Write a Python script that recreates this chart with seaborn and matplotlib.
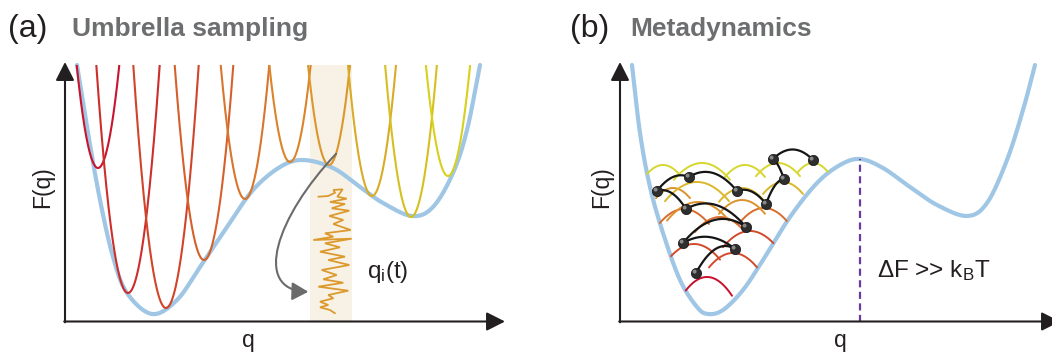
import numpy as np
import matplotlib
matplotlib.use("Agg")
import matplotlib.pyplot as plt
from matplotlib.path import Path
from matplotlib.patches import FancyArrowPatch, Rectangle
import seaborn as sns

sns.set_theme(style="white")
plt.rcParams["font.family"] = ["Liberation Sans", "DejaVu Sans"]
plt.rcParams["mathtext.fontset"] = "custom"
plt.rcParams["mathtext.rm"] = "Liberation Sans"
plt.rcParams["mathtext.it"] = "Liberation Sans"

W, H = 1052, 354

# ---------------- data ----------------
# (a) free-energy profile F(q), control points
fa_q = [12, 23, 35, 48, 62, 87, 112, 135, 162, 188, 215, 238, 268, 295, 318, 347, 368, 388, 402, 415]
fa_F = [256.5, 188.5, 121.5, 64.5, 28.5, 7.5, 21.5, 54.5, 94.5, 131.5, 154.5, 161.5, 153.5, 134.5,
        118.5, 105.5, 114.5, 148.5, 191.5, 256.5]

# umbrella windows: minimum position / level of each harmonic bias
win_q = [33, 63, 101, 139, 180, 225, 264, 307, 346, 383]
win_F = [153.5, 28.5, 13.5, 61.5, 122.5, 159.5, 156.5, 125.5, 104.5, 145.5]
win_k = 0.227
win_colors = ["#c8142f", "#cc2e2b", "#d0452a", "#d5602b", "#d9752c",
              "#db842c", "#db962c", "#d9ab27", "#d6bf21", "#d8d01d"]

# sampled window and its trajectory q_i(t)
band_q = [245, 287]
traj_t_q = [253.3, 263.3, 270, 268.3, 277.7, 272.3, 281.7, 265, 280, 266.7, 284.3, 264.3, 278.3,
            268.3, 285.7, 260, 268.3, 248.3, 286.7, 260, 275, 255, 280, 263.3, 284.3, 256.7,
            271.7, 258.3, 278.3, 253.3, 268.3, 283.3, 263.3, 268.3, 255, 263.3, 255, 265, 270]
traj_t_F = [124.8, 125.5, 128.8, 131.5, 132.2, 124.8, 122.8, 119.5, 117.5, 113.2, 110.8, 105.5,
            101.5, 97.5, 91.5, 88.2, 84.8, 81.5, 82.8, 78.2, 74.2, 69.8, 64.8, 61.5, 56.5, 51.5,
            46.5, 42.2, 38.8, 34.8, 32.8, 30.8, 26.5, 23.2, 19.8, 16.5, 14.2, 11.5, 8.2]

# (b) free-energy profile
fb_q = [12, 20, 30, 43, 60, 77, 88, 103, 123, 143, 170, 197, 220, 240, 263, 290, 317, 347, 367,
        387, 403, 415]
fb_F = [256.5, 188.5, 134.5, 88.5, 41.5, 14.5, 7.5, 11.5, 31.5, 61.5, 104.5, 138.5, 156.5, 162.5,
        153.5, 134.5, 116.5, 105.5, 118.5, 161.5, 211.5, 256.5]
barrier_q = 240

# deposited Gaussian hills: centre, top, half width, layer
hill_q = [87, 74, 113, 130, 64, 100, 144, 53, 78, 122, 77, 122, 163, 43, 82, 125, 158, 193]
hill_F = [44.5, 77.5, 68.5, 90.5, 112.5, 104.5, 113.5, 133.5, 119.5, 121.5, 139.5, 133.5, 139.5,
          156.5, 158.5, 156.5, 158.5, 158.5]
hill_w = [25, 26, 24, 27, 25, 25, 24, 17, 31, 23, 32, 23, 20, 17, 28, 20, 22, 15]
hill_layer = [0, 1, 1, 1, 2, 2, 2, 3, 3, 3, 4, 4, 4, 5, 5, 5, 5, 5]
layer_colors = ["#c8102e", "#d24a2b", "#da6b2b", "#dd922e", "#dbb72b", "#d6d72e"]

# walker positions in visiting order, and arc lift of each hop
walk_q = [76, 115, 63, 126, 66, 37, 69, 117, 146, 164, 153, 193]
walk_F = [48.5, 72.5, 78.5, 94.5, 112.5, 130.5, 144.5, 130.5, 117.5, 142.5, 162.5, 161.5]
hop_lift = [12, 9, 15, 13, 7, 7, 11, 6, 6, 3, 10]

BLUE = "#9fc6e4"
AXIS = "#231f20"


def smooth(xs, ys, n=24):
    """Catmull-Rom curve through the control points."""
    P = np.column_stack([xs, ys]).astype(float)
    P = np.vstack([2 * P[0] - P[1], P, 2 * P[-1] - P[-2]])
    out = []
    t = np.linspace(0, 1, n, endpoint=False)[:, None]
    for i in range(1, len(P) - 2):
        p0, p1, p2, p3 = P[i - 1], P[i], P[i + 1], P[i + 2]
        seg = 0.5 * (2 * p1 + (-p0 + p2) * t + (2 * p0 - 5 * p1 + 4 * p2 - p3) * t ** 2
                     + (-p0 + 3 * p1 - 3 * p2 + p3) * t ** 3)
        out.append(seg)
    out.append(P[-2][None])
    c = np.vstack(out)
    return c[:, 0], c[:, 1]


def draw_axes(ax):
    ax.set_xlim(0, 440)
    ax.set_ylim(0, 259.5)
    ax.axis("off")
    kw = dict(arrowstyle="-|>,head_length=0.75,head_width=0.38", lw=1.5, color=AXIS,
              mutation_scale=15, shrinkA=0, shrinkB=0)
    ax.annotate("", xy=(0, 259.5), xytext=(0, -0.8), arrowprops=kw, annotation_clip=False, zorder=10)
    ax.annotate("", xy=(440, 0), xytext=(-0.8, 0), arrowprops=kw, annotation_clip=False, zorder=10)


fig = plt.figure(figsize=(W / 100, H / 100), dpi=100)
axa = fig.add_axes([65 / W, (H - 321.5) / H, 440 / W, 259.5 / H])
axb = fig.add_axes([620 / W, (H - 321.5) / H, 440 / W, 259.5 / H])

# ---------------- (a) umbrella sampling ----------------
axa.add_patch(Rectangle((band_q[0], 0), band_q[1] - band_q[0], 256.5, color="#f8f2e6", lw=0, zorder=0))
qa, Fa = smooth(fa_q, fa_F)
sns.lineplot(x=qa, y=Fa, sort=False, estimator=None, color=BLUE, lw=3.0, ax=axa, zorder=2)

for qv, Fv, col in zip(win_q, win_F, win_colors):
    hw = np.sqrt((256.5 - Fv) / win_k)
    q = np.linspace(qv - hw, qv + hw, 200)
    axa.plot(q, Fv + win_k * (q - qv) ** 2, color=col, lw=1.5, zorder=3, solid_capstyle="butt")

axa.plot(traj_t_q, traj_t_F, color="#dc9a2e", lw=1.3, zorder=4, solid_joinstyle="miter")

arrow_path = Path([(265, 169.5), (205, 101.5), (180, 21.5), (237, 19.5)],
                  [Path.MOVETO, Path.CURVE4, Path.CURVE4, Path.CURVE4])
arrow_path = arrow_path.transformed(axa.transData)
axa.add_patch(FancyArrowPatch(path=arrow_path, arrowstyle="-|>,head_length=0.9,head_width=0.5",
                              mutation_scale=11, lw=1.5, color="#6b6b6b", transform=None, zorder=5))
draw_axes(axa)

# ---------------- (b) metadynamics ----------------
qb, Fb = smooth(fb_q, fb_F)
sns.lineplot(x=qb, y=Fb, sort=False, estimator=None, color=BLUE, lw=3.0, ax=axb, zorder=2)
axb.plot([barrier_q, barrier_q], [0, np.interp(barrier_q, qb, Fb)], color="#6a3aa0", lw=1.6,
         ls=(0, (3.2, 2.0)), zorder=3)

for c, top, w, lev in zip(hill_q, hill_F, hill_w, hill_layer):
    q = np.linspace(c - w, c + w, 120)
    drop = 0.75 * w if lev == 0 else 0.6 * w
    F = top - drop * ((q - c) / w) ** 2
    F = np.where(F >= np.interp(q, qb, Fb), F, np.nan)
    axb.plot(q, F, color=layer_colors[lev], lw=1.4, zorder=3)

for i in range(len(walk_q) - 1):
    p0 = np.array([walk_q[i], walk_F[i]])
    p2 = np.array([walk_q[i + 1], walk_F[i + 1]])
    ctrl = (p0 + p2) / 2 + np.array([0, 2 * hop_lift[i]])
    t = np.linspace(0, 1, 60)[:, None]
    seg = (1 - t) ** 2 * p0 + 2 * (1 - t) * t * ctrl + t ** 2 * p2
    axb.plot(seg[:, 0], seg[:, 1], color="#151515", lw=1.6, zorder=5)

sns.scatterplot(x=walk_q, y=walk_F, s=55, color="#2e2e2e", edgecolor="#111111", linewidth=0.5,
                ax=axb, zorder=6, legend=False)
sns.scatterplot(x=np.array(walk_q) - 1.4, y=np.array(walk_F) + 1.4, s=8, color="#8a8a8a",
                edgecolor="none", ax=axb, zorder=7, legend=False)
draw_axes(axb)


# ---------------- text ----------------
def fx(x, y):
    return x / W, 1 - y / H


fig.text(*fx(8, 37), "(a)", fontsize=23, color=AXIS, va="baseline", ha="left")
fig.text(*fx(72, 36), "Umbrella sampling", fontsize=19, fontweight="bold", color="#6d6e70",
         va="baseline", ha="left")
fig.text(*fx(570, 37), "(b)", fontsize=23, color=AXIS, va="baseline", ha="left")
fig.text(*fx(630, 36), "Metadynamics", fontsize=19, fontweight="bold", color="#6d6e70",
         va="baseline", ha="left")

for x in (43, 602):
    fig.text(*fx(x, 187), "F(q)", fontsize=16.5, color=AXIS, rotation=90, va="center", ha="center")
for x in (248, 840):
    fig.text(*fx(x, 347), "q", fontsize=16.5, color=AXIS, va="baseline", ha="center")

fig.text(*fx(367, 278), r"q$_\mathrm{i}$(t)", fontsize=17.5, color=AXIS, va="baseline", ha="left")
fig.text(*fx(877, 277), r"ΔF >> k$_\mathrm{B}$T", fontsize=17.5, color=AXIS, va="baseline", ha="left")

fig.savefig("out.png", dpi=100)
